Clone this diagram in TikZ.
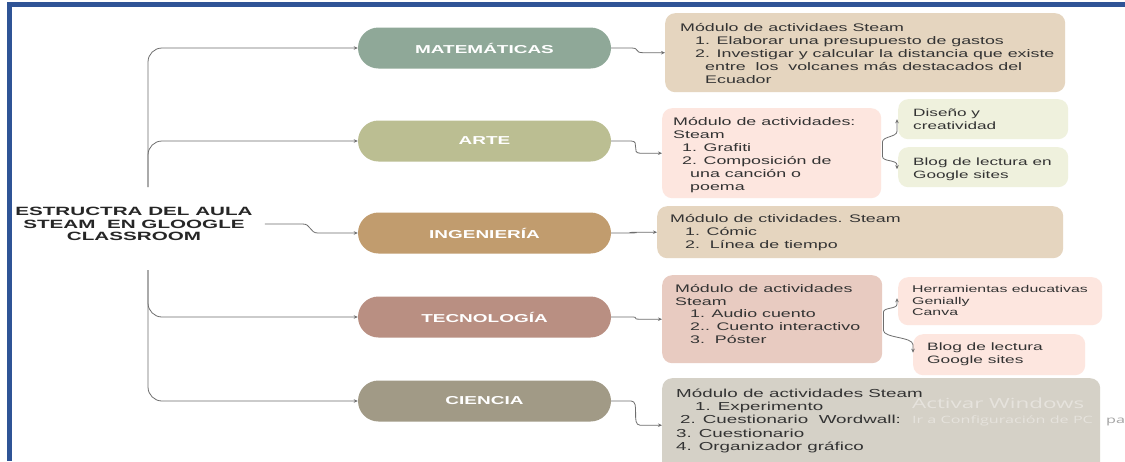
\documentclass[tikz,border=0pt]{standalone}
\usepackage{fontspec}
\usetikzlibrary{arrows.meta,calc}
\newfontfamily\bodyfont[FakeStretch=1.62]{Liberation Sans}
\newfontfamily\rootfont[FakeStretch=1.72]{Liberation Sans}
\newfontfamily\pillfont[FakeStretch=1.65]{Liberation Sans}
\newfontfamily\winfont[FakeStretch=1.6]{Open Sans}

\definecolor{frameblue}{HTML}{2F5496}
\definecolor{linec}{HTML}{6E6E6E}
\definecolor{txtc}{HTML}{333333}
\definecolor{cMat}{HTML}{8FA898}
\definecolor{cArte}{HTML}{BBBE92}
\definecolor{cIng}{HTML}{C19C6E}
\definecolor{cTec}{HTML}{B98F82}
\definecolor{cCien}{HTML}{A19A86}
\definecolor{bSand}{HTML}{E5D5BF}
\definecolor{bPink}{HTML}{FDE6DF}
\definecolor{bLime}{HTML}{EFF1DD}
\definecolor{bRose}{HTML}{E8CBC1}
\definecolor{bGrey}{HTML}{D5D1C7}
\definecolor{winlight}{HTML}{E6E3DD}
\definecolor{windark}{HTML}{A3A3A3}

\begin{document}
\begin{tikzpicture}[x=1pt,y=-1pt,
  conn/.style={draw=linec, line width=0.8pt, -{Stealth[length=4pt,width=3.5pt]}},
  trunk/.style={conn, rounded corners=14pt},
  pill/.style={rounded corners=20.5pt, minimum width=253pt, minimum height=41pt,
    inner sep=0pt, text=white, font=\pillfont\bfseries\fontsize{11.5}{13}\selectfont},
  panel/.style={anchor=north west, rounded corners=10pt, inner sep=0pt},
  txt/.style={anchor=north west, inner sep=0pt, align=left, text=txtc,
    font=\bodyfont\fontsize{11}{13}\selectfont},
  wmark/.style={anchor=base west, inner sep=0pt, font=\winfont}]

\useasboundingbox (0,0) rectangle (1125,461);
\clip (0,0) rectangle (1125,461);
\fill[white] (0,0) rectangle (1125,461);

% window frame
\fill[frameblue] (7,2) rectangle (1125,7);
\fill[frameblue] (7,2) rectangle (12,461);

% root title
\node[align=center, inner sep=0pt, text=black!85,
      font=\rootfont\bfseries\fontsize{12}{12.6}\selectfont] (root) at (134,224)
  {ESTRUCTRA DEL AULA\\STEAM\ \ EN GLOOGLE\\CLASSROOM};

% subject pills
\node[pill, fill=cMat]  (mat)  at (484.5,48)  {MATEMÁTICAS};
\node[pill, fill=cArte] (arte) at (484.5,141) {ARTE};
\node[pill, fill=cIng]  (ing)  at (484.5,233) {INGENIERÍA};
\node[pill, fill=cTec]  (tec)  at (484.5,317) {TECNOLOGÍA};
\node[pill, fill=cCien] (cien) at (484.5,401) {CIENCIA};

% activity panels
\node[panel, fill=bSand, minimum width=400pt, minimum height=79pt] (matbox)  at (665,13)  {};
\node[panel, fill=bPink, minimum width=219pt, minimum height=90pt] (artebox) at (662,108) {};
\node[panel, fill=bLime, minimum width=170pt, minimum height=40pt] (diseno)  at (898,99)  {};
\node[panel, fill=bLime, minimum width=170pt, minimum height=40pt] (blogA)   at (898,147) {};
\node[panel, fill=bSand, minimum width=406pt, minimum height=52pt] (ingbox)  at (657,206) {};
\node[panel, fill=bRose, minimum width=220pt, minimum height=88pt] (tecbox)  at (662,275) {};
\node[panel, fill=bPink, minimum width=204pt, minimum height=48pt] (herr)    at (898,277) {};
\node[panel, fill=bPink, minimum width=172pt, minimum height=41pt] (blogB)   at (913,334) {};
\node[panel, fill=bGrey, minimum width=438pt, minimum height=94pt] (cienbox) at (662,378) {};

% panel texts
\node[txt] (matT) at (680,23) {Módulo de actividaes Steam\\
  \hspace*{15pt}1. Elaborar una presupuesto de gastos\\
  \hspace*{15pt}2. Investigar y calcular la distancia que existe\\
  \hspace*{25pt}entre\ \ los\ \ volcanes más destacados del\\
  \hspace*{25pt}Ecuador};
\node[txt] (arteT) at (673,117) {Módulo de actividades:\\
  Steam\\
  \hspace*{9pt}1. Grafiti\\
  \hspace*{9pt}2. Composición de\\
  \hspace*{17pt}una canción o\\
  \hspace*{17pt}poema};
\node[txt, font=\bodyfont\fontsize{10.6}{13}\selectfont] (disenoT) at (913,109) {Diseño y\\creatividad};
\node[txt, font=\bodyfont\fontsize{10.6}{12.5}\selectfont] (blogAT) at (913,158) {Blog de lectura en\\Google sites};
\node[txt] (ingT) at (670,214) {Módulo de ctividades. Steam\\
  \hspace*{15pt}1. Cómic\\
  \hspace*{15pt}2.\ \ Línea de tiempo};
\node[txt, font=\bodyfont\fontsize{11}{12.7}\selectfont] (tecT) at (675,284) {Módulo de actividades\\
  Steam\\
  \hspace*{15pt}1. Audio cuento\\
  \hspace*{15pt}2.. Cuento interactivo\\
  \hspace*{15pt}3.\ \ Póster};
\node[txt, font=\bodyfont\fontsize{9.8}{11.7}\selectfont] (herrT) at (912,285) {Herramientas educativas\\Genially\\Canva};
\node[txt, font=\bodyfont\fontsize{10.7}{12.5}\selectfont] (blogBT) at (927,343) {Blog de lectura\\Google sites};
\node[txt, font=\bodyfont\fontsize{11.6}{13.3}\selectfont] (cienT) at (676,388.5) {Módulo de actividades Steam\\
  \hspace*{19pt}1. Experimento\\
  \hspace*{4pt}2. Cuestionario\ \ Wordwall:\\
  3. Cuestionario\\
  4. Organizador gráfico};

% system watermark
\node[wmark, text=winlight, font=\winfont\fontsize{14}{16}\selectfont] (wm1) at (912,408) {Activar Windows};
\node[wmark, text=winlight, font=\winfont\fontsize{10.1}{12}\selectfont] (wm2) at (912,423) {Ir a Configuración de PC};
\node[wmark, text=windark, font=\winfont\fontsize{10.1}{12}\selectfont] (wm3) at (1106,423) {pa};

% trunk from the title to the subjects
\coordinate (tA) at (148,187);
\coordinate (tB) at (148,270);
\draw[trunk] (tA) |- (mat.west);
\draw[trunk] (tA) |- (arte.west);
\draw[trunk] (tB) |- (tec.west);
\draw[trunk] (tB) |- (cien.west);
\draw[conn] ($(root.east)+(12,0)$) -- ++(38,0)
  .. controls +(8,0) and +(-8,0) .. ($(ing.west)+(-40,0)$) -- (ing.west);

% subjects to their panels
\foreach \s/\b in {mat/matbox, arte/artebox, ing/ingbox, tec/tecbox, cien/cienbox}
  \draw[conn] (\s.east) -- ++(20,0)
    .. controls +(9,0) and +(-9,0) .. ($(\b.west)+(-22,0)$) -- (\b.west);

% panels to their resources
\draw[conn] ($(artebox.east)+(1,-3)$) -- ++(0,-8)
  .. controls +(0,-6) and +(0,6) .. ($(diseno.west)+(-1,12)$) -- ($(diseno.west)+(-1,0)$);
\draw[conn] ($(artebox.east)+(1,-3)$) -- ++(0,6)
  .. controls +(0,6) and +(0,-6) .. ($(blogA.west)+(-1,-2)$) -- ($(blogA.west)+(-1,2)$);
\draw[conn] ($(tecbox.east)+(1,0)$) -- ++(0,-7)
  .. controls +(0,-5) and +(0,5) .. ($(herr.west)+(-1,3)$) -- ($(herr.west)+(-1,-3)$);
\draw[conn] ($(tecbox.east)+(1,0)$) -- ++(0,11)
  .. controls +(0,8) and +(0,-8) .. ($(blogB.west)+(0,-10)$) -- ($(blogB.west)+(0,-2)$);

\end{tikzpicture}
\end{document}
